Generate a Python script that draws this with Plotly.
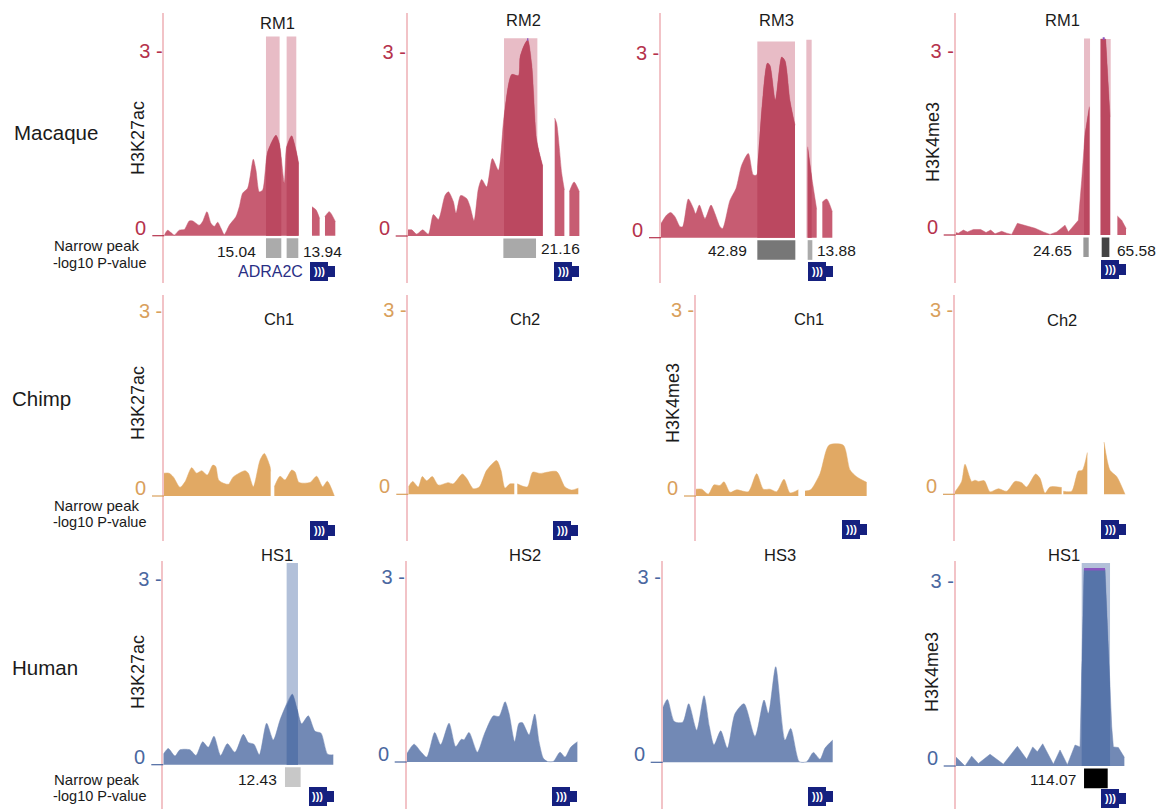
import numpy as np
import plotly.graph_objects as go

W, H = 1167, 809

# ---- signal tracks: position (arbitrary bins), value (signal); None marks a gap ----
RM1_AC_X = [0,10,20,30,45,60,75,85,105,115,128,140,150,160,170,180,195,215,225,235,250,267,275,285,295,310,335,345,360,367,382,395,403,None,443,455,466,None,482,495,513]
RM1_AC_Y = [.01,.09,.05,.01,.09,.10,.24,.24,.17,.23,.39,.20,.15,.22,.12,.02,.17,.31,.47,.69,.77,1.24,1.06,.71,.74,1.36,1.63,1.50,.86,1.44,1.62,1.39,1.17,None,.47,.42,.28,None,.31,.39,.23]
RM2_AC_X = [0,12,27,45,62,77,92,112,122,137,145,159,177,187,199,212,222,237,254,272,289,312,332,337,349,360,372,387,405,None,441,447,462,470,None,485,499,515]
RM2_AC_Y = [.10,.10,.03,.10,.03,.35,.27,.66,.72,.56,.37,.66,.61,.48,.25,.77,.92,.80,1.26,1.07,1.94,2.63,2.61,2.91,3.10,3.19,2.80,1.56,1.14,None,1.92,1.83,1.02,.75,None,.72,.88,.72]
RM3_AC_X = [0,17,29,42,57,65,82,97,104,115,132,150,162,177,185,207,225,242,262,277,287,302,319,327,343,362,372,387,402,None,440,452,467,None,484,497,514]
RM3_AC_Y = [.23,.37,.41,.34,.18,.18,.63,.48,.39,.53,.31,.53,.39,.18,.15,.61,.80,1.18,1.37,1.02,1.02,2.07,2.84,2.80,2.24,2.94,2.88,2.23,1.83,None,1.48,.99,.46,None,.58,.63,.42]
RM1_ME_X = [0,8,23,35,53,75,91,105,118,138,153,168,185,208,238,263,283,303,328,338,353,368,378,388,401,None,435,450,463,None,485,498,511]
RM1_ME_Y = [.04,.03,.08,.05,.09,.09,.04,.08,.02,.06,.03,.01,.19,.16,.11,.05,.01,.05,.16,.05,.14,.24,.89,1.65,2.09,None,3.19,3.19,1.92,None,.31,.24,.11]

CH1_AC_X = [0,15,28,48,63,83,98,113,130,146,155,165,193,208,243,253,268,288,301,318,320,None,331,348,363,383,393,405,438,458,476,490,511]
CH1_AC_Y = [.37,.37,.31,.14,.23,.46,.37,.41,.34,.50,.48,.25,.19,.31,.41,.37,.15,.58,.69,.48,.40,None,.15,.32,.26,.42,.39,.22,.22,.32,.15,.24,0]
CH2_AC_X = [0,13,30,42,55,72,90,120,135,162,175,195,213,235,265,278,290,305,318,None,327,357,373,395,445,470,490,510]
CH2_AC_Y = [.12,.21,.12,.29,.22,.29,.15,.19,.17,.33,.26,.09,.12,.39,.55,.39,.10,.17,.17,None,.17,.12,.36,.34,.37,.12,.07,.10]
CH1_ME_X = [0,17,37,54,72,84,102,122,157,182,202,222,242,264,282,307,None,327,344,372,399,442,462,482,512]
CH1_ME_Y = [.11,.11,.03,.18,.17,.23,.06,.10,.07,.36,.11,.11,.07,.27,.05,.10,None,.08,.10,.36,.82,.82,.42,.31,.22]
CH2_ME_X = [0,20,30,50,60,70,88,105,130,155,180,200,215,242,255,270,285,320,None,325,350,370,382,397,None,447,465,485,510]
CH2_ME_Y = [.04,.21,.49,.21,.23,.21,.22,.04,.09,.05,.21,.19,.12,.33,.26,.02,.12,.11,None,.05,.05,.38,.39,.68,None,.85,.39,.29,0]

HS1_AC_X = [0,15,35,50,80,98,118,135,152,172,192,215,240,255,272,288,310,330,352,387,402,415,435,455,473,493,510]
HS1_AC_Y = [.17,.26,.14,.24,.24,.15,.37,.28,.46,.15,.34,.20,.49,.36,.33,.16,.67,.40,.75,1.14,.89,.66,.79,.54,.51,.17,.16]
HS2_AC_X = [0,22,42,60,84,102,127,147,164,172,187,212,232,260,277,295,307,324,337,347,367,384,397,410,422,440,460,475,492,512]
HS2_AC_Y = [.13,.29,.17,.08,.48,.28,.63,.25,.37,.36,.48,.16,.44,.75,.74,.98,.79,.33,.63,.64,.44,.78,.33,.06,.01,.01,.16,.08,.24,.33]
HS3_AC_X = [0,14,35,60,78,102,124,140,154,174,194,217,244,277,304,317,339,367,384,410,432,452,472,487,510]
HS3_AC_Y = [.88,1.02,.66,.65,.95,.52,1.08,.58,.28,.51,.23,.79,.95,.42,1.01,.79,1.55,.36,.55,.01,.01,.16,.05,.23,.36]
HS1_ME_X = [0,28,48,68,103,143,185,213,231,245,261,293,313,335,358,373,385,448,468,473,488,506]
HS1_ME_Y = [.15,0,.16,.04,.19,.03,.32,.11,.31,.23,.36,.03,.26,.02,.34,.31,3.19,3.19,.64,.31,.30,.14]

TITLES = ["RM1","RM2","RM3","RM1","Ch1","Ch2","Ch1","Ch2","HS1","HS2","HS3","HS1"]
SPECIES = ["Macaque","Chimp","Human"]
PEAK_LABELS = ["15.04","13.94","21.16","42.89","13.88","24.65","65.58","12.43","114.07"]

TRACKS = [(RM1_AC_X,RM1_AC_Y),(RM2_AC_X,RM2_AC_Y),(RM3_AC_X,RM3_AC_Y),(RM1_ME_X,RM1_ME_Y),
          (CH1_AC_X,CH1_AC_Y),(CH2_AC_X,CH2_AC_Y),(CH1_ME_X,CH1_ME_Y),(CH2_ME_X,CH2_ME_Y),
          (HS1_AC_X,HS1_AC_Y),(HS2_AC_X,HS2_AC_Y),(HS3_AC_X,HS3_AC_Y),(HS1_ME_X,HS1_ME_Y)]

# axis x px, baseline px, "3" px
GEOM = [(164.3,235.7,50.7),(407.7,236,51.7),(661,237.7,53.3),(955.7,235,50.7),
        (164,496,311),(408.3,494.3,310),(696,496,310),(955,494.3,310),
        (163.3,764.7,579),(406.7,762,577.3),(662.7,762.3,577.3),(955.7,766,581)]
ROW_SPAN = [(13,283),(295,541),(561,809)]
ROW_STYLE = [
    dict(fill="#c75c72", dark="#bb4860", band="#e8bcc6", text="#b5324c"),
    dict(fill="#e1a964", dark="#e1a964", band="#f3dcbd", text="#d9a05c"),
    dict(fill="#7289b5", dark="#5674a9", band="#b2c0d9", text="#4a67a0"),
]
# panel -> list of (band x0, x1, dark x1, top)
BANDS = {0:[(305,346,351,3.23),(367,396,403,3.23)], 1:[(289,389,405,3.22)],
         2:[(289,402,402,3.19),(436,452,452,3.22)], 3:[(385,403,403,3.2),(435,465,465,3.19)],
         8:[(370,404,404,3.26)], 11:[(378,463,463,3.29)]}
# panel -> list of (x0, x1, grey)
PEAKS = {0:[(305,351,"#ababab"),(367,402,"#ababab")], 1:[(287,385,"#a9a9a9")],
         2:[(289,403,"#777777"),(440,454,"#ababab")], 3:[(383,399,"#999999"),(438,461,"#444444")],
         8:[(365,412,"#c8c8c8")], 11:[(385,456,"#000000")]}
# panel -> (x0, x1, value) clipped peak marks
CLIP = {1:(358,362,3.2), 3:(441,447,3.2), 11:(385,448,3.19)}
SHARP = {3, 11}
# peak label: (text index, x centre, y centre)
NUM_POS = [(0,236,251),(1,322,251),(2,560,249),(3,727,250),(4,836,250),(5,1052,250),(6,1136,250),(7,257,779),(8,1053,779)]
TITLE_POS = [(277,23),(523,20),(776,20),(1062,20),(279,319),(525,319),(809,319),(1062,320),(277,555),(525,555),(780,555),(1064,555)]
MARK_POS = [("H3K27ac",138,138),("H3K4me3",933,142),("H3K27ac",138,403),("H3K4me3",673,403),("H3K27ac",138,672),("H3K4me3",932,672)]
ICONS = [(310,262),(554,262),(808,262),(1101,260),(310,521),(553,521),(842,520),(1101,520),(309,787),(552,787),(808,787),(1101,789)]
SPECIES_POS = [(12,133),(10,398),(10,667)]
NARROW_POS = [(245,263),(505,522),(779,796)]

px = lambda v: v / W
py = lambda v: 1 - v / H
FONT = "Liberation Sans"
fig = go.Figure()
layout = dict(width=W, height=H, margin=dict(l=0, r=0, t=0, b=0), showlegend=False,
              paper_bgcolor="white", plot_bgcolor="white", font=dict(family=FONT, color="#1a1a1a"))
shapes, ann = [], []

def text(t, x, y, size, color="#1a1a1a", anchor="center", angle=0):
    ann.append(dict(text=t, xref="paper", yref="paper", x=px(x), y=py(y), showarrow=False,
                    xanchor=anchor, yanchor="middle", textangle=angle, align=anchor,
                    font=dict(size=size, color=color, family=FONT)))

for i, ((xs, ys), (ax, base, three)) in enumerate(zip(TRACKS, GEOM)):
    row = i // 4
    st = ROW_STYLE[row]
    top, bot = ROW_SPAN[row]
    upp = (base - three) / 3
    sfx = "" if i == 0 else str(i + 1)
    xa, ya = "x" + sfx, "y" + sfx
    span = 190
    layout["xaxis" + sfx] = dict(domain=[px(ax), px(ax + span)], range=[0, span * 3], visible=False,
                                 anchor=ya, fixedrange=True)
    layout["yaxis" + sfx] = dict(domain=[py(bot), py(top)], range=[(base - bot) / upp, (base - top) / upp],
                                 anchor=xa, showgrid=False, zeroline=False, showline=True, linecolor="#f2c3c7",
                                 linewidth=1.5, ticks="", tickmode="array", tickvals=[3], ticktext=["3 -"],
                                 ticklabelstandoff=-4,
                                 tickfont=dict(size=20, color=st["text"], family=FONT), fixedrange=True)
    for a, b, d, t in BANDS.get(i, []):
        shapes.append(dict(type="rect", xref=xa, yref=ya, x0=a, x1=b, y0=0, y1=t, fillcolor=st["band"],
                           line_width=0, layer="below"))
    shape = dict(shape="linear") if i in SHARP else dict(shape="spline", smoothing=0.7)
    # split on gaps
    segs, cx, cy = [], [], []
    for x, y in zip(xs + [None], ys + [None]):
        if x is None:
            segs.append((cx, cy)); cx, cy = [], []
        else:
            cx.append(x); cy.append(y)
    for sx, sy in segs:
        fig.add_trace(go.Scatter(x=sx, y=sy, mode="lines", fill="tozeroy", fillcolor=st["fill"],
                                 line=dict(width=0.5, color=st["fill"], **shape), xaxis=xa, yaxis=ya, hoverinfo="skip"))
        for a, b, d, t in BANDS.get(i, []):
            lo, hi = max(a, sx[0]), min(d, sx[-1])
            if lo >= hi:
                continue
            inner = [v for v in sx if lo < v < hi]
            dx = [lo] + inner + [hi]
            dy = list(np.interp(dx, sx, sy))
            fig.add_trace(go.Scatter(x=dx, y=dy, mode="lines", fill="tozeroy", fillcolor=st["dark"],
                                     line=dict(width=0, **shape), xaxis=xa, yaxis=ya, hoverinfo="skip"))
    if i in CLIP:
        a, b, v = CLIP[i]
        fig.add_trace(go.Scatter(x=[a, b], y=[v, v], mode="lines", line=dict(width=2.5, color="#8a55c0"),
                                 xaxis=xa, yaxis=ya, hoverinfo="skip"))
    for a, b, c in PEAKS.get(i, []):
        shapes.append(dict(type="rect", xref=xa, yref=ya, x0=a, x1=b, y0=-0.04, y1=-0.36, fillcolor=c, line_width=0))
    # baseline stub and zero label
    shapes.append(dict(type="line", xref="paper", yref="paper", x0=px(ax - 12), x1=px(ax), y0=py(base), y1=py(base),
                       line=dict(color=st["text"], width=1.2)))
    text("0", ax - 16, base - 8, 20, st["text"], "right")
    tx, ty = TITLE_POS[i]
    text(TITLES[i], tx, ty, 16.5)
    # gene icon
    ix, iy = ICONS[i]
    navy = "#15207f"
    shapes.append(dict(type="rect", xref="paper", yref="paper", x0=px(ix), x1=px(ix + 18), y0=py(iy), y1=py(iy + 19),
                       fillcolor=navy, line_width=0))
    shapes.append(dict(type="rect", xref="paper", yref="paper", x0=px(ix + 18), x1=px(ix + 25), y0=py(iy + 4), y1=py(iy + 15),
                       fillcolor=navy, line_width=0))
    text("<b>)))</b>", ix + 9, iy + 9, 11, "white")

for t, (x, y) in zip(SPECIES, SPECIES_POS):
    text(t, x, y, 20.5, anchor="left")
for y1, y2 in NARROW_POS:
    text("Narrow peak", 97, y1, 15)
    text("-log10 P-value", 100, y2, 14.5)
for k, x, y in NUM_POS:
    text(PEAK_LABELS[k], x, y, 15.5)
for t, x, y in MARK_POS:
    text(t, x, y, 18, angle=-90)
text("ADRA2C", 270, 272, 16, "#2a2f85")

layout["shapes"] = shapes
layout["annotations"] = ann
fig.update_layout(**layout)
fig.write_html("out.html", post_script="document.body.style.margin='0';", config={"displayModeBar": False})
